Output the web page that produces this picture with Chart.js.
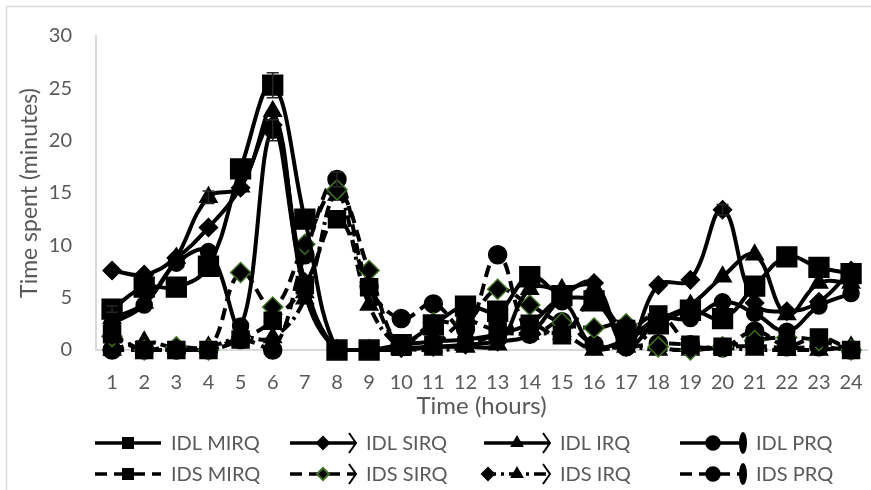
<!DOCTYPE html>
<html>
<head>
<meta charset="utf-8">
<script src="https://cdn.jsdelivr.net/npm/chart.js@4.4.1/dist/chart.umd.min.js"></script>
<style>
  html, body { margin: 0; padding: 0; background: #fff; }
  #wrap { width: 871px; height: 490px; overflow: hidden; position: relative; }
  canvas { display: block; }
</style>
</head>
<body>
<div id="wrap"><canvas id="timeChart" width="884" height="490"></canvas></div>
<script>
const hours = ['1','2','3','4','5','6','7','8','9','10','11','12','13','14','15','16','17','18','19','20','21','22','23','24'];

const idlMirq = [3.9, 6.0, 6.0, 8.0, 17.3, 25.3, 12.5, 0, 0, 0.5, 2.4, 4.2, 3.7, 7.0, 5.2, 4.7, 1.5, 2.5, 3.8, 3.0, 6.1, 8.9, 7.9, 7.3];
const idlSirq = [7.6, 7.2, 8.8, 11.7, 15.5, 21.5, 6.5, 0, 0, 0.2, 0.3, 0.5, 0.8, 1.5, 5.0, 6.4, 0.3, 6.2, 6.7, 13.4, 4.5, 3.7, 4.6, 7.6];
const idlIrq  = [3.0, 4.5, 8.8, 14.6, 15.6, 22.8, 5.5, 0, 0, 0, 0.3, 0.3, 0.5, 5.8, 5.8, 6.0, 0.3, 2.8, 4.3, 7.0, 9.1, 3.4, 6.4, 6.4];
const idlPrq  = [2.5, 4.3, 8.3, 9.4, 2.3, 21.0, 6.0, 0, 0, 0.5, 0.8, 1.0, 1.5, 2.5, 4.6, 0.3, 1.0, 3.0, 3.0, 4.6, 3.5, 1.8, 4.2, 5.4];
const idsMirq = [1.5, 0, 0, 0, 1.0, 2.8, 6.2, 12.5, 6.0, 0.3, 0.5, 2.7, 1.9, 2.5, 1.4, 4.8, 2.0, 3.4, 0.5, 0.3, 0.4, 0.3, 1.2, 0];
const idsSirq = [1.3, 0, 0.3, 0, 7.4, 4.1, 10.1, 15.3, 7.6, 0.3, 2.6, 2.7, 5.8, 4.3, 2.6, 2.1, 2.5, 0.3, 0, 0.3, 0.9, 1.2, 0.9, 0];
const idsIrq  = [0, 0.8, 0.2, 0.3, 1.2, 1.2, 4.9, 14.8, 4.3, 0.2, 0, 0.3, 1.5, 1.5, 1.5, 0, 0.3, 0, 0, 0.2, 0, 0, 0, 0.3];
const idsPrq  = [0, 0, 0, 0, 1.0, 0, 9.1, 16.3, 6.1, 3.0, 4.4, 2.0, 9.1, 1.5, 2.7, 0.5, 0.3, 0.6, 0.5, 0.2, 1.8, 0.3, 0.3, 0];

// error bar half-widths (minutes), only the visible ones
const idlMirqErr = [0.3, 0, 0, 0, 0, 1.2, 0, 0, 0, 0, 0, 0, 0, 0, 0, 0, 0, 0, 0, 0, 0, 0, 0, 0];
const idlIrqErr  = [0, 0, 0, 0.6, 0, 0, 0, 0, 0, 0, 0, 0, 0, 0, 0, 0, 0, 0, 0, 0, 0, 0, 0, 0];
const idlPrqErr  = [0, 0, 0, 0, 0, 1.0, 0, 0, 0, 0, 0, 0, 0, 0, 0, 0, 0, 0, 0, 0, 0, 0, 0, 0];
const idlSirqErr = [0, 0, 0, 0, 0, 0, 0, 0, 0, 0, 0, 0, 0, 0, 0, 0, 0, 0, 0, 0.5, 0, 0, 0, 0];
const idsPrqErr  = [0, 0, 0, 0, 0, 0, 0, 0.7, 0, 0, 0, 0, 0, 0, 0, 0, 0, 0, 0, 0, 0, 0, 0, 0];

const seriesNames = ['IDL MIRQ', 'IDL SIRQ', 'IDL IRQ', 'IDL PRQ', 'IDS MIRQ', 'IDS SIRQ', 'IDS IRQ', 'IDS PRQ'];
const seriesData = [idlMirq, idlSirq, idlIrq, idlPrq, idsMirq, idsSirq, idsIrq, idsPrq];
const seriesErr = [idlMirqErr, idlSirqErr, idlIrqErr, idlPrqErr, null, null, null, idsPrqErr];

const FONT = 'Lato';
const TEXT = '#595959';

function makeSet(i, style, radius, dash, end, pointBorder) {
  return {
    label: seriesNames[i],
    data: seriesData[i],
    errors: seriesErr[i],
    borderColor: '#000',
    borderWidth: 4,
    borderDash: dash,
    tension: 0.4,
    pointStyle: style,
    pointRadius: radius,
    pointBackgroundColor: '#000',
    pointBorderColor: pointBorder || '#000',
    pointBorderWidth: 1.5,
    clip: false,
    legendEnd: end
  };
}

const datasets = [
  makeSet(0, 'rect', 14, [], 'none'),
  makeSet(1, 'rectRot', 9, [], 'arrow'),
  makeSet(2, 'triangle', 10, [], 'arrow'),
  makeSet(3, 'circle', 8, [], 'oval'),
  makeSet(4, 'rect', 12, [12, 7], 'none'),
  makeSet(5, 'rectRot', 10, [12, 7], 'arrow', '#3f6f22'),
  makeSet(6, 'triangle', 10, [12, 5, 3, 5], 'arrow'),
  makeSet(7, 'circle', 9, [12, 7], 'oval')
];

// thin grey frame of the chart area (only left and top edges visible)
const framePlugin = {
  id: 'frame',
  beforeDraw(chart) {
    const ctx = chart.ctx;
    ctx.save();
    ctx.strokeStyle = '#d9d9d9';
    ctx.lineWidth = 1.5;
    ctx.beginPath();
    ctx.moveTo(6.5, chart.height);
    ctx.lineTo(6.5, 6.5);
    ctx.lineTo(chart.width, 6.5);
    ctx.stroke();
    ctx.restore();
  }
};

// vertical error bars with caps
const errorBars = {
  id: 'errorBars',
  afterDatasetsDraw(chart) {
    const ctx = chart.ctx;
    const y = chart.scales.y;
    chart.data.datasets.forEach((ds, i) => {
      if (!ds.errors) return;
      const meta = chart.getDatasetMeta(i);
      meta.data.forEach((pt, j) => {
        const e = ds.errors[j];
        if (!e) return;
        const top = y.getPixelForValue(ds.data[j] + e);
        const bot = y.getPixelForValue(ds.data[j] - e);
        ctx.save();
        ctx.strokeStyle = '#262626';
        ctx.lineWidth = 1.5;
        ctx.beginPath();
        ctx.moveTo(pt.x, top); ctx.lineTo(pt.x, bot);
        ctx.moveTo(pt.x - 6, top); ctx.lineTo(pt.x + 6, top);
        ctx.moveTo(pt.x - 6, bot); ctx.lineTo(pt.x + 6, bot);
        ctx.stroke();
        ctx.restore();
      });
    });
  }
};

// legend drawn as line samples with markers, 4 columns x 2 rows
const lineLegend = {
  id: 'lineLegend',
  afterDraw(chart, args, opts) {
    const ctx = chart.ctx;
    chart.data.datasets.forEach((ds, i) => {
      const col = i % 4, row = Math.floor(i / 4);
      const x0 = opts.cols[col], y = opts.rows[row];
      const x1 = x0 + opts.lineLength;
      ctx.save();
      ctx.strokeStyle = '#000';
      ctx.fillStyle = '#000';
      ctx.lineWidth = 3.5;
      ctx.setLineDash(ds.borderDash || []);
      ctx.beginPath();
      ctx.moveTo(x0, y);
      ctx.lineTo(x1, y);
      ctx.stroke();
      ctx.setLineDash([]);
      if (ds.legendEnd === 'arrow') {
        ctx.lineWidth = 2;
        ctx.beginPath();
        ctx.moveTo(x1 - 7, y - 10);
        ctx.lineTo(x1, y);
        ctx.lineTo(x1 - 7, y + 10);
        ctx.stroke();
      } else if (ds.legendEnd === 'oval') {
        ctx.beginPath();
        ctx.ellipse(x1 - 3, y, 4, 11, 0, 0, Math.PI * 2);
        ctx.fill();
      }
      if (ds.label === 'IDS IRQ') {
        Chart.helpers.drawPoint(ctx, { pointStyle: 'rectRot', radius: 6, borderWidth: 1 }, x0 + 4, y);
      }
      ctx.fillStyle = '#000';
      ctx.strokeStyle = ds.pointBorderColor;
      Chart.helpers.drawPoint(ctx, { pointStyle: ds.pointStyle, radius: 6, borderWidth: 1.5 }, (x0 + x1) / 2, y);
      ctx.fillStyle = TEXT;
      ctx.font = '20px ' + FONT;
      ctx.textBaseline = 'middle';
      ctx.fillText(ds.label, x1 + opts.gap, y + 1);
      ctx.restore();
    });
  }
};

const ctx = document.getElementById('timeChart').getContext('2d');
const timeChart = new Chart(ctx, {
  type: 'line',
  data: { labels: hours, datasets: datasets },
  plugins: [framePlugin, errorBars, lineLegend],
  options: {
    responsive: false,
    animation: false,
    layout: { padding: { left: 0, right: 3, top: 22, bottom: 69 } },
    plugins: {
      legend: { display: false },
      tooltip: { enabled: false },
      lineLegend: { cols: [95, 290, 484, 680], rows: [443, 474], lineLength: 66, gap: 10 }
    },
    scales: {
      x: {
        offset: true,
        grid: { display: false, drawTicks: false },
        border: { color: '#d9d9d9', width: 2 },
        ticks: { color: TEXT, font: { family: FONT, size: 20 }, padding: 21, maxRotation: 0, autoSkip: false },
        title: { display: true, text: 'Time (hours)', color: TEXT, font: { family: FONT, size: 24 }, padding: { top: 0, bottom: 0 } },
        afterFit(s) { s.height = 71; }
      },
      y: {
        min: 0,
        max: 30,
        grid: { display: false, drawTicks: false },
        border: { color: '#d9d9d9', width: 2 },
        ticks: { stepSize: 5, color: TEXT, font: { family: FONT, size: 20 }, padding: 24 },
        title: { display: true, text: 'Time spent (minutes)', color: TEXT, font: { family: FONT, size: 23 }, padding: { top: 16, bottom: 0 } },
        afterFit(s) { s.width = 96; }
      }
    }
  }
});
</script>
</body>
</html>
